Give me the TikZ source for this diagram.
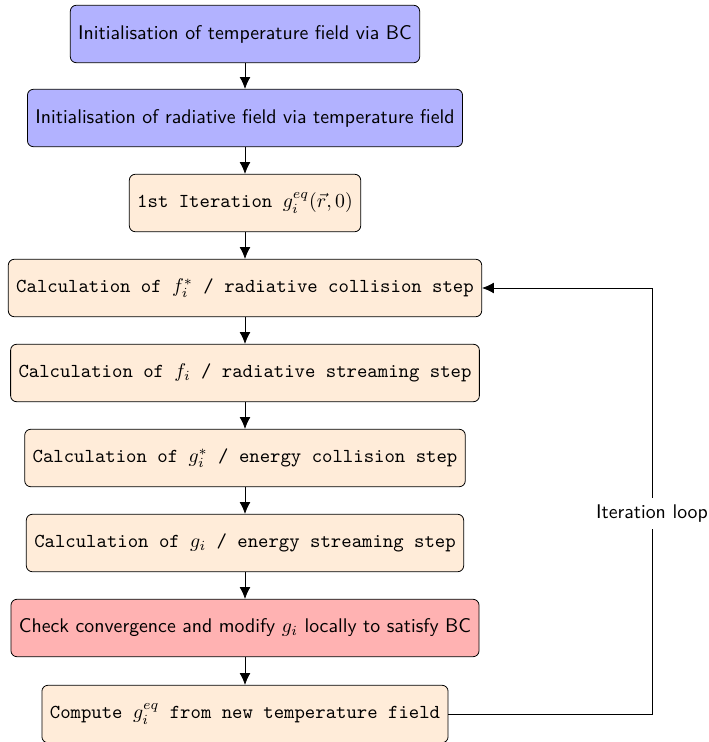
\documentclass[tikz,border=0pt]{standalone}
\usetikzlibrary{arrows.meta}
\tikzset{
  boxbase/.style={draw, rounded corners=3pt, minimum height=29pt, align=center, inner xsep=4pt},
  initbox/.style={boxbase, fill=blue!30, font=\sffamily},
  stepbox/.style={boxbase, fill=orange!15, font=\ttfamily},
  checkbox/.style={boxbase, fill=red!30, font=\sffamily},
  flow/.style={-{Latex[length=6pt,width=5.5pt]}},
}
\begin{document}
\begin{tikzpicture}[x=0.505pt,y=-0.505pt]
  \useasboundingbox (0,0) rectangle (708,742);
  \node[initbox]  (n1) at (245,34)  {Initialisation of temperature field via BC};
  \node[initbox]  (n2) at (245,118) {Initialisation of radiative field via temperature field};
  \node[stepbox]  (n3) at (245,203) {1st Iteration $g_i^{eq}(\vec{r},0)$};
  \node[stepbox]  (n4) at (245,288) {Calculation of $f_i^*$ / radiative collision step};
  \node[stepbox]  (n5) at (245,373) {Calculation of $f_i$ / radiative streaming step};
  \node[stepbox]  (n6) at (245,458) {Calculation of $g_i^*$ / energy collision step};
  \node[stepbox]  (n7) at (245,543) {Calculation of $g_i$ / energy streaming step};
  \node[checkbox] (n8) at (245,628) {Check convergence and modify $g_i$ locally to satisfy BC};
  \node[stepbox]  (n9) at (245,714) {Compute $g_i^{eq}$ from new temperature field};

  \foreach \a/\b in {n1/n2,n2/n3,n3/n4,n4/n5,n5/n6,n6/n7,n7/n8,n8/n9}
    \draw[flow] (\a) -- (\b);

  \coordinate (lb) at (652,714);
  \coordinate (lt) at (652,288);
  \draw[flow] (n9.east) -- (lb) -- node[fill=white, font=\sffamily, pos=0.47] {Iteration loop} (lt) -- (n4.east);
\end{tikzpicture}
\end{document}
